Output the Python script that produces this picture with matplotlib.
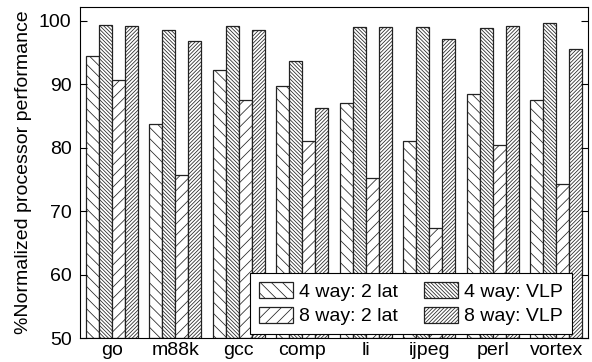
import numpy as np
import matplotlib
matplotlib.use('Agg')
import matplotlib.pyplot as plt

benchmarks = ['go', 'm88k', 'gcc', 'comp', 'li', 'ijpeg', 'perl', 'vortex']
four_way_2lat = [94.4, 83.8, 92.2, 89.8, 87.0, 81.1, 88.4, 87.6]
four_way_vlp = [99.4, 98.6, 99.2, 93.7, 99.0, 99.0, 98.8, 99.7]
eight_way_2lat = [90.6, 75.7, 87.5, 81.0, 75.3, 67.4, 80.5, 74.3]
eight_way_vlp = [99.2, 96.9, 98.6, 86.3, 99.0, 97.2, 99.2, 95.5]

plt.rcParams['font.family'] = ['Liberation Sans', 'DejaVu Sans']
plt.rcParams['hatch.linewidth'] = 0.55
plt.rcParams['hatch.color'] = '#222222'

fig = plt.figure(figsize=(5.92, 3.62), dpi=100)
ax = fig.add_axes([0.135, 0.066, 0.858, 0.915])

x = np.arange(len(benchmarks))
w = 0.205
series = [
    (four_way_2lat, '\\' * 3, '4 way: 2 lat'),
    (four_way_vlp, '\\' * 9, '4 way: VLP'),
    (eight_way_2lat, '/' * 3, '8 way: 2 lat'),
    (eight_way_vlp, '/' * 9, '8 way: VLP'),
]
handles = []
for i, (vals, hatch, label) in enumerate(series):
    b = ax.bar(x + (i - 1.5) * w, np.array(vals) - 50, w, bottom=50,
               color='white', edgecolor='#222222', linewidth=0.9,
               hatch=hatch, label=label)
    handles.append(b)

ax.set_xlim(-0.5, 7.5)
ax.set_ylim(50, 102.2)
ax.set_yticks([50, 60, 70, 80, 90, 100])
ax.set_xticks(x)
ax.set_xticklabels(benchmarks, fontsize=14)
ax.tick_params(axis='x', length=0, pad=3)
ax.tick_params(axis='y', direction='in', right=True, labelsize=14, length=5,
               pad=6)
ax.set_ylabel('%Normalized processor performance', fontsize=14, labelpad=5)

leg = ax.legend(handles=[handles[0], handles[2], handles[1], handles[3]],
                ncol=2, loc='lower right', bbox_to_anchor=(0.969, 0.012),
                fontsize=14, frameon=True, fancybox=False, edgecolor='black',
                framealpha=1, borderaxespad=0, handlelength=1.75,
                handleheight=0.9, columnspacing=1.3, handletextpad=0.35,
                labelspacing=0.3, borderpad=0.45)
leg.get_frame().set_linewidth(0.8)

fig.savefig('out.png', dpi=100)
